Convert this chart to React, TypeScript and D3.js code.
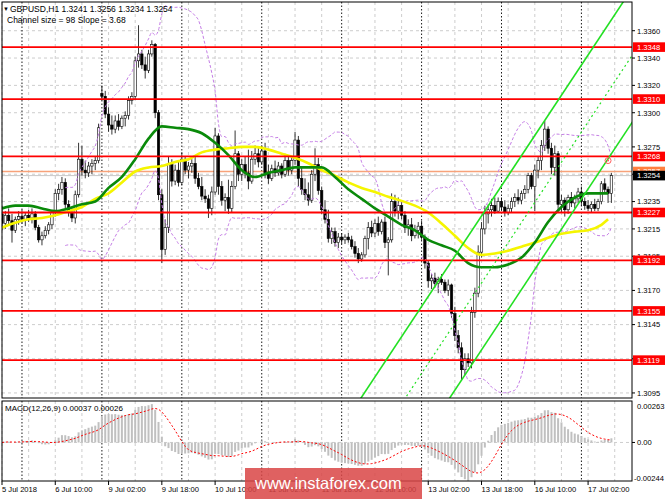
import * as d3 from "d3";

// hourly candles [open, high, low, close], pips above 1.3000, 5 Jul 18:00 .. 17 Jul 09:00
const CANDLES: number[][] = [
  [226,232,214,219],[219,228,215,225],[225,230,218,221],[221,226,205,214],[214,224,212,222],[222,228,218,224],
  [224,229,219,222],[222,227,217,225],[225,229,220,223],[223,230,219,226],[226,228,214,216],[216,218,205,207],
  [207,213,203,210],[210,217,208,214],[214,220,211,218],[218,229,215,227],[227,244,224,241],[241,248,236,244],
  [244,253,240,249],[249,252,230,233],[233,236,224,227],[227,231,220,223],[223,243,219,240],[240,278,238,266],
  [266,276,254,258],[258,265,252,256],[256,264,253,261],[261,266,255,263],[263,268,258,265],[265,292,263,289],
  [314,320,309,312],[312,316,296,299],[299,304,286,291],[291,298,284,288],[288,298,285,294],[294,299,287,290],
  [290,298,288,296],[296,301,290,298],[298,312,295,309],[309,315,306,312],[312,341,310,338],[338,364,333,343],
  [343,346,332,335],[335,341,325,331],[331,346,329,343],[343,353,341,350],[350,351,296,300],[300,302,236,240],
  [240,244,190,200],[200,222,196,216],[216,268,212,262],[262,266,246,250],[250,262,247,258],[258,264,246,249],
  [249,271,247,266],[266,268,255,258],[258,264,252,261],[261,266,256,263],[263,268,248,252],[252,256,244,246],
  [246,253,236,239],[239,244,234,237],[237,240,223,230],[230,246,225,242],[242,289,240,283],[283,285,240,246],
  [246,250,232,236],[236,241,228,238],[238,251,226,230],[230,250,227,246],[246,287,244,270],[270,272,250,255],
  [255,266,250,262],[262,268,252,256],[256,273,244,250],[250,272,248,266],[266,276,262,270],[270,274,260,264],
  [264,276,262,272],[272,278,252,256],[256,262,248,252],[252,262,250,259],[259,265,253,256],[256,264,254,261],
  [261,263,252,255],[255,270,253,265],[265,268,254,258],[258,268,255,265],[265,286,262,280],[280,283,246,252],
  [252,260,240,244],[244,252,236,240],[240,249,232,236],[236,258,234,255],[255,274,250,262],[262,267,240,243],
  [243,246,226,229],[229,236,219,222],[222,229,205,208],[208,216,204,213],[213,216,202,205],[205,212,201,209],
  [209,212,204,207],[207,211,204,209],[209,212,205,207],[207,210,200,202],[202,206,194,197],[197,201,190,193],
  [193,198,191,196],[196,210,194,208],[208,220,200,216],[216,221,209,212],[212,222,209,219],[219,224,210,213],
  [213,222,211,220],[220,224,201,205],[205,209,181,207],[207,241,205,235],[235,240,224,228],[228,238,222,232],
  [232,236,222,225],[225,228,212,216],[216,222,210,218],[218,223,206,210],[210,218,208,214],[214,220,208,217],
  [217,221,207,209],[209,211,186,190],[190,192,172,177],[177,182,171,179],[179,183,172,175],[175,180,168,178],
  [178,182,174,176],[176,178,168,170],[170,178,166,174],[174,175,150,153],[153,158,133,137],[137,141,124,128],
  [128,132,104,112],[112,124,108,120],[120,124,114,117],[117,158,113,154],[154,172,150,168],[168,203,165,198],
  [198,220,194,215],[215,232,211,226],[226,233,219,229],[229,237,224,232],[232,238,226,228],[228,238,227,235],
  [235,238,228,231],[231,236,224,227],[227,233,225,230],[230,238,227,235],[235,241,231,238],[238,244,233,236],
  [236,243,233,241],[241,247,237,244],[244,256,241,254],[254,256,244,246],[246,262,228,258],[258,268,252,265],
  [265,280,258,276],[276,294,272,288],[288,290,270,274],[274,278,255,260],[260,276,254,270],[270,272,228,233],
  [233,240,227,236],[236,238,224,229],[229,240,226,238],[238,242,231,234],[234,240,230,237],[237,245,234,242],
  [242,246,232,235],[235,238,229,232],[232,236,228,230],[230,235,227,233],[233,237,228,230],[230,237,228,235],
  [235,250,233,248],[248,252,241,244],[244,246,234,241],[241,256,234,254],
];

// moving averages every 4 bars (pips above 1.3000)
const MA_BARS = [...d3.range(0, 181, 4), 182];
const GREEN_MA = [230,232,232,230,228,230,233,235,245,253,266,281,290,289,288,285,278,269,258,253,256,258,260,260,260,253,244,237,230,224,218,214,207,203,199,190,187,187,189,194,205,220,231,238,241,241,241];
const YELLOW_MA = [216,219.5,222,223,225,228,231,237,241,249,257,260,261,264,266,271,273,274,275,275,273,270,267,263,258,254,249,245,242,238.5,235.5,232,227,219,210,201,196,197,199,202,205,208.5,211.5,213,214,218,222];

const LEVELS = [1.3348, 1.331, 1.3268, 1.3227, 1.3192, 1.3155, 1.3119];
const PRICE_TICKS = [1.336, 1.334, 1.332, 1.33, 1.3275, 1.3255, 1.3235, 1.3215, 1.3195, 1.317, 1.3145, 1.312, 1.3095];
const TIME_LABELS: [number, string][] = [
  [0, "5 Jul 2018"], [16, "6 Jul 10:00"], [32, "9 Jul 02:00"], [48, "9 Jul 18:00"],
  [64, "10 Jul 10:00"], [80, "11 Jul 02:00"], [96, "11 Jul 18:00"], [112, "12 Jul 10:00"],
  [128, "13 Jul 02:00"], [144, "13 Jul 18:00"], [160, "16 Jul 10:00"], [176, "17 Jul 02:00"],
];
const DAY_STARTS = [6, 30, 54, 78, 102, 126, 150, 174];
const GRID_BARS = d3.range(0, 185, 8);

// regression channel: middle at last bar, slope per bar, half width
const CH_END_BAR = 183;
const CH_END_MID = 1.3319;
const CH_SLOPE = 0.000368;
const CH_HALF = 0.0049;

const BID = 1.3254;
const ASK = 1.3257;
const ALERT: [number, number] = [182, 1.3265];
const MACD_MAX = 0.00263;
const MACD_MIN = -0.00244;

const FONT = "Liberation Sans, Arial, sans-serif";

export default function App() {
  const x = d3.scaleLinear().domain([0, 189]).range([2, 2 + 189 * 3.33]);
  const y = d3.scaleLinear().domain([1.30913, 1.3381]).range([398, 2]);
  const ym = d3.scaleLinear().domain([MACD_MIN, MACD_MAX]).range([480, 402]);
  const p = (v: number) => 1.3 + v / 10000;

  const closes = CANDLES.map((c) => p(c[3]));

  // Bollinger (20, 2)
  const bands: [number, number, number][] = [];
  closes.forEach((_, i) => {
    if (i < 19) return;
    const w = closes.slice(i - 19, i + 1);
    const m = d3.mean(w)!;
    const sd = Math.sqrt(d3.mean(w, (v) => (v - m) ** 2)!);
    bands.push([i, m + 2 * sd, m - 2 * sd]);
  });

  // MACD (12, 26, 9)
  let e12 = closes[0], e26 = closes[0];
  const macd = closes.map((c) => {
    e12 += ((c - e12) * 2) / 13;
    e26 += ((c - e26) * 2) / 27;
    return e12 - e26;
  });
  const signal = macd.map((_, i) => d3.mean(macd.slice(Math.max(0, i - 8), i + 1))!);

  const maLine = d3.line<[number, number]>().x((d) => x(d[0])).y((d) => y(p(d[1]))).curve(d3.curveMonotoneX);
  const priceLine = d3.line<[number, number]>().x((d) => x(d[0])).y((d) => y(d[1]));
  const macdLine = d3.line<[number, number]>().x((d) => x(d[0])).y((d) => ym(d[1]));

  const chan = (off: number) => {
    const a = 90, b = 190;
    return priceLine([
      [a, CH_END_MID + off - CH_SLOPE * (CH_END_BAR - a)],
      [b, CH_END_MID + off + CH_SLOPE * (b - CH_END_BAR)],
    ])!;
  };

  const L = 2, R = 632;

  return (
    <svg width={665} height={499} style={{ position: "absolute", left: 0, top: 0, background: "#fff" }} fontFamily={FONT}>
      <defs>
        <clipPath id="main"><rect x={L} y={2} width={R - L} height={396} /></clipPath>
        <clipPath id="sub"><rect x={L} y={401} width={R - L} height={80} /></clipPath>
      </defs>
      <rect width={665} height={499} fill="#fff" />

      {/* grid */}
      <g stroke="#c0c0c0" strokeWidth={0.8} strokeDasharray="3,3">
        {PRICE_TICKS.map((t) => <line key={t} x1={L} x2={R} y1={y(t)} y2={y(t)} />)}
        {GRID_BARS.map((i) => (
          <g key={i}>
            <line x1={x(i)} x2={x(i)} y1={2} y2={398} />
            <line x1={x(i)} x2={x(i)} y1={401} y2={481} />
          </g>
        ))}
        <line x1={L} x2={R} y1={ym(0)} y2={ym(0)} />
      </g>
      <g stroke="#000" strokeWidth={0.9} strokeDasharray="1.5,2">
        {DAY_STARTS.map((i) => (
          <g key={i}>
            <line x1={x(i)} x2={x(i)} y1={2} y2={398} />
            <line x1={x(i)} x2={x(i)} y1={401} y2={481} />
          </g>
        ))}
      </g>

      <g clipPath="url(#main)">
        {/* bid / ask */}
        <line x1={L} x2={R} y1={y(ASK)} y2={y(ASK)} stroke="#f7a27a" strokeWidth={1.3} />
        <line x1={L} x2={R} y1={y(BID)} y2={y(BID)} stroke="#c8c8c8" strokeWidth={1} />

        {/* candles */}
        {CANDLES.map(([o, h, l, c], i) => {
          const cx = x(i);
          const top = y(p(Math.max(o, c)));
          const bot = y(p(Math.min(o, c)));
          return (
            <g key={i}>
              <line x1={cx} x2={cx} y1={y(p(h))} y2={y(p(l))} stroke="#000" strokeWidth={0.8} />
              <rect x={cx - 1.2} y={top} width={2.4} height={Math.max(bot - top, 0.8)}
                fill={c >= o ? "#fff" : "#000"} stroke="#000" strokeWidth={0.6} />
            </g>
          );
        })}

        {/* bollinger */}
        <g fill="none" stroke="#c57ee6" strokeWidth={1} strokeDasharray="3,2">
          <path d={d3.line<[number, number, number]>().x((d) => x(d[0])).y((d) => y(d[1])).curve(d3.curveMonotoneX)(bands)!} />
          <path d={d3.line<[number, number, number]>().x((d) => x(d[0])).y((d) => y(d[2])).curve(d3.curveMonotoneX)(bands)!} />
        </g>

        {/* moving averages */}
        <path d={maLine(MA_BARS.map((b, k) => [b, YELLOW_MA[k]] as [number, number]))!} fill="none" stroke="#f5f500" strokeWidth={2.6} />
        <path d={maLine(MA_BARS.map((b, k) => [b, GREEN_MA[k]] as [number, number]))!} fill="none" stroke="#0a8a0a" strokeWidth={2.6} />

        {/* levels */}
        {LEVELS.map((lv) => <line key={lv} x1={L} x2={R} y1={y(lv)} y2={y(lv)} stroke="#ff0000" strokeWidth={1.8} />)}

        {/* channel */}
        <path d={chan(CH_HALF)} stroke="#22e022" strokeWidth={1.6} fill="none" />
        <path d={chan(0)} stroke="#22e022" strokeWidth={1.2} strokeDasharray="2,3" fill="none" />
        <path d={chan(-CH_HALF)} stroke="#22e022" strokeWidth={1.6} fill="none" />

        <circle cx={x(ALERT[0])} cy={y(ALERT[1])} r={3} fill="none" stroke="#ff5a5a" strokeWidth={1} />
        <circle cx={x(ALERT[0])} cy={y(ALERT[1])} r={1} fill="#ff5a5a" />
      </g>

      {/* MACD */}
      <g clipPath="url(#sub)">
        {macd.map((v, i) => {
          const y0 = ym(0), y1 = ym(v);
          return <rect key={i} x={x(i) - 1} y={Math.min(y0, y1)} width={2} height={Math.abs(y1 - y0)} fill="#c0c0c0" />;
        })}
        <path d={macdLine(signal.map((v, i) => [i, v] as [number, number]))!} fill="none" stroke="#ff0000" strokeWidth={1} strokeDasharray="2,2" />
      </g>

      {/* frames */}
      <g fill="none" stroke="#000" strokeWidth={1}>
        <rect x={L} y={2} width={R - L} height={396} />
        <rect x={L} y={401} width={R - L} height={80} />
      </g>

      {/* header */}
      <text x={3} y={11} fontSize={6}>▼</text>
      <text x={10} y={12} fontSize={8.5}>GBPUSD,H1  1.3241 1.3256 1.3234 1.3254</text>
      <text x={7} y={22.5} fontSize={8.5}>Channel size = 98 Slope = 3.68</text>
      <text x={5} y={411} fontSize={8}>MACD(12,26,9) 0.00037 0.00026</text>

      {/* price axis */}
      <g fontSize={7.6}>
        {PRICE_TICKS.map((t) => (
          <g key={t}>
            <line x1={R} x2={R + 3} y1={y(t)} y2={y(t)} stroke="#000" />
            <text x={637} y={y(t) + 2.8}>{t.toFixed(4)}</text>
          </g>
        ))}
        {LEVELS.map((lv) => (
          <g key={lv}>
            <rect x={R + 1} y={y(lv) - 4.8} width={33} height={9.6} fill="#ff0000" />
            <text x={637} y={y(lv) + 2.8} fill="#fff">{lv.toFixed(4)}</text>
          </g>
        ))}
        <rect x={R + 1} y={y(ASK) - 4.8} width={33} height={9.6} fill="#ff7f3f" />
        <text x={637} y={y(ASK) + 2.8} fill="#fff">{ASK.toFixed(4)}</text>
        <rect x={R + 1} y={y(BID) - 4.8} width={33} height={9.6} fill="#000" />
        <text x={637} y={y(BID) + 2.8} fill="#fff">{BID.toFixed(4)}</text>

        <text x={637} y={ym(MACD_MAX) + 7} >{MACD_MAX.toFixed(5)}</text>
        <text x={637} y={ym(0) + 2.8}>0.00</text>
        <text x={634} y={ym(MACD_MIN) + 1}>{MACD_MIN.toFixed(5)}</text>
        <line x1={R} x2={R + 3} y1={ym(0)} y2={ym(0)} stroke="#000" />
      </g>

      {/* time axis */}
      <g fontSize={7.6}>
        {TIME_LABELS.map(([i, s]) => (
          <g key={i}>
            <line x1={x(i)} x2={x(i)} y1={481} y2={485} stroke="#000" />
            <text x={x(i)} y={492}>{s}</text>
          </g>
        ))}
      </g>

      {/* watermark */}
      <rect x={245} y={468} width={177} height={31} fill="#d94545" opacity={0.85} />
      <text x={255} y={489} fontSize={16.5} fill="#fff">www.instaforex.com</text>
    </svg>
  );
}
